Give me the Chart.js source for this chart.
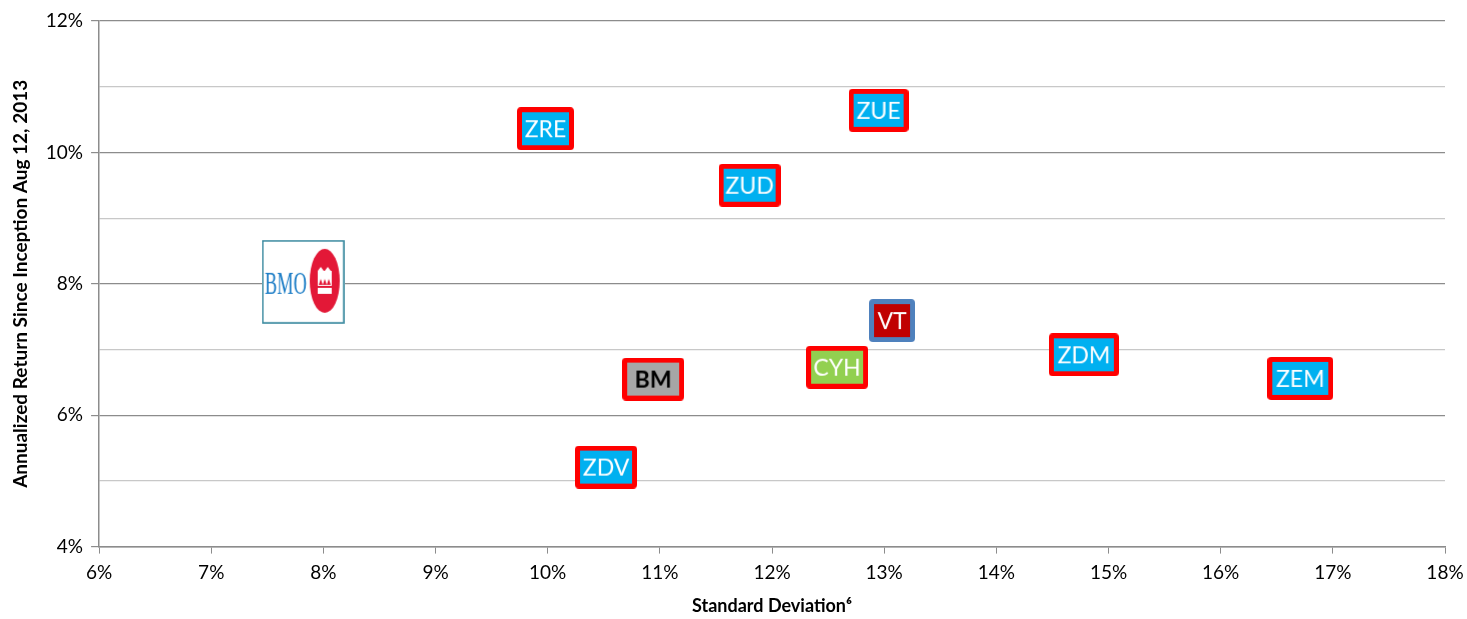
<!DOCTYPE html>
<html><head><meta charset="utf-8">
<script src="https://cdn.jsdelivr.net/npm/chart.js@4"></script>
<style>html,body{margin:0;padding:0;background:#fff}#wrap{width:1467px;height:619px}</style>
</head><body><div id="wrap"><canvas id="c" width="1467" height="619"></canvas></div>
<script>
const names = ["BMO","ZRE","ZUE","ZUD","VT","ZDM","ZEM","CYH","BM","ZDV"];
const stdDev = [7.82,9.98,12.95,11.80,13.07,14.78,16.71,12.58,10.94,10.52];
const annReturn = [8.03,10.36,10.64,9.50,7.44,6.92,6.56,6.73,6.55,5.21];
const xTicks = [6,7,8,9,10,11,12,13,14,15,16,17,18];
const yTicks = [4,6,8,10,12];
const FONT = "Lato, 'Open Sans', sans-serif";

const styles = {
  ZRE:{fill:"#00B0F0",border:"#FF0000",text:"#fff",w:57},
  ZUE:{fill:"#00B0F0",border:"#FF0000",text:"#fff",w:60},
  ZUD:{fill:"#00B0F0",border:"#FF0000",text:"#fff",w:62},
  ZDM:{fill:"#00B0F0",border:"#FF0000",text:"#fff",w:70},
  ZEM:{fill:"#00B0F0",border:"#FF0000",text:"#fff",w:66},
  ZDV:{fill:"#00B0F0",border:"#FF0000",text:"#fff",w:62},
  CYH:{fill:"#92D050",border:"#FF0000",text:"#fff",w:62},
  BM:{fill:"#A6A6A6",border:"#FF0000",text:"#000",w:62,bold:true},
  VT:{fill:"#C00000",border:"#4F81BD",text:"#fff",w:46}
};

function rr(ctx,x,y,w,h,r){ctx.beginPath();ctx.moveTo(x+r,y);ctx.lineTo(x+w-r,y);ctx.quadraticCurveTo(x+w,y,x+w,y+r);ctx.lineTo(x+w,y+h-r);ctx.quadraticCurveTo(x+w,y+h,x+w-r,y+h);ctx.lineTo(x+r,y+h);ctx.quadraticCurveTo(x,y+h,x,y+h-r);ctx.lineTo(x,y+r);ctx.quadraticCurveTo(x,y,x+r,y);ctx.closePath();}

function labelImg(name){
  const s = styles[name];
  const h = 43, w = s.w;
  const c = document.createElement('canvas'); c.width=w; c.height=h;
  const ctx = c.getContext('2d');
  rr(ctx,0,0,w,h,4); ctx.fillStyle=s.border; ctx.fill();
  ctx.fillStyle=s.fill; ctx.fillRect(5,5,w-10,h-10);
  ctx.fillStyle=s.text; ctx.font=(s.bold?"bold ":"")+"23px "+FONT;
  ctx.textAlign="center"; ctx.textBaseline="middle";
  ctx.fillText(name,w/2,h/2+1, w-12);
  return c;
}
function bmoImg(){
  const w=83,h=84;
  const c=document.createElement('canvas');c.width=w;c.height=h;
  const ctx=c.getContext('2d');
  ctx.fillStyle="#fff";ctx.fillRect(0,0,w,h);
  ctx.strokeStyle="#31849B";ctx.lineWidth=1.5;ctx.strokeRect(1,1,w-2,h-2);
  ctx.fillStyle="#1a7cc6";ctx.font="31px 'Liberation Serif', serif";
  ctx.textBaseline="alphabetic";ctx.fillText("BMO",3,54,42);
  ctx.fillStyle="#E31837";ctx.beginPath();ctx.ellipse(63,41,15,32,0,0,Math.PI*2);ctx.fill();
  ctx.fillStyle="#fff";
  ctx.beginPath();
  ctx.moveTo(56,54);ctx.lineTo(56,31);ctx.lineTo(59,27);ctx.lineTo(62,31);ctx.lineTo(63,31);ctx.lineTo(66,27);ctx.lineTo(69,31);ctx.lineTo(70,31);ctx.lineTo(70,54);ctx.closePath();ctx.fill();
  ctx.fillStyle="#E31837";
  ctx.fillRect(56,46,14,2);
  ctx.beginPath();ctx.moveTo(57,45);ctx.lineTo(59,39);ctx.lineTo(61,45);ctx.closePath();ctx.fill();
  ctx.beginPath();ctx.moveTo(61,45);ctx.lineTo(63,39);ctx.lineTo(65,45);ctx.closePath();ctx.fill();
  ctx.beginPath();ctx.moveTo(65,45);ctx.lineTo(67,39);ctx.lineTo(69,45);ctx.closePath();ctx.fill();
  return c;
}
const imgs = names.map(n => n==="BMO" ? bmoImg() : labelImg(n));

const chart = new Chart(document.getElementById('c'), {
  type:'scatter',
  data:{datasets:[{
    data: names.map((n,i)=>({x:stdDev[i], y:annReturn[i]})),
    pointStyle: imgs,
    pointRadius: 20,
    pointHoverRadius: 20
  }]},
  options:{
    responsive:false, animation:false, devicePixelRatio:1,
    layout:{padding:{top:7,right:22,left:9,bottom:2}},
    plugins:{legend:{display:false},tooltip:{enabled:false}},
    scales:{
      x:{
        type:'linear', min:6, max:18,
        afterBuildTicks: ax => { ax.ticks = xTicks.map(v=>({value:v})); },
        afterFit: s => { s.paddingRight = 0; },
        ticks:{ callback:v=>v+'%', color:'#000', font:{family:FONT,size:19}, padding:8, maxRotation:0 },
        grid:{ drawOnChartArea:false, color:'#8c8c8c', tickLength:7, lineWidth:1 },
        border:{ color:'#8c8c8c', width:1.5 },
        title:{ display:true, text:'Standard Deviation\u2076', color:'#000', font:{family:FONT,size:18,weight:'bold'}, padding:{top:3,bottom:0} }
      },
      y:{
        type:'linear', min:4, max:12,
        ticks:{ stepSize:1, callback:v=> (v%2===0 ? v+'%' : ''), color:'#000', font:{family:FONT,size:19}, padding:8 },
        grid:{
          color: ctx => (ctx.tick && ctx.tick.value%2===0) ? '#8c8c8c' : '#c8c8c8',
          tickColor: ctx => (ctx.tick && ctx.tick.value%2===0) ? '#8c8c8c' : 'rgba(0,0,0,0)',
          tickLength:8, lineWidth:1.2
        },
        border:{ color:'#8c8c8c', width:1.5 },
        title:{ display:true, text:'Annualized Return Since Inception Aug 12, 2013', color:'#000', font:{family:FONT,size:19,weight:'bold'}, padding:{top:0,bottom:6} }
      }
    }
  }
});
</script></body></html>
